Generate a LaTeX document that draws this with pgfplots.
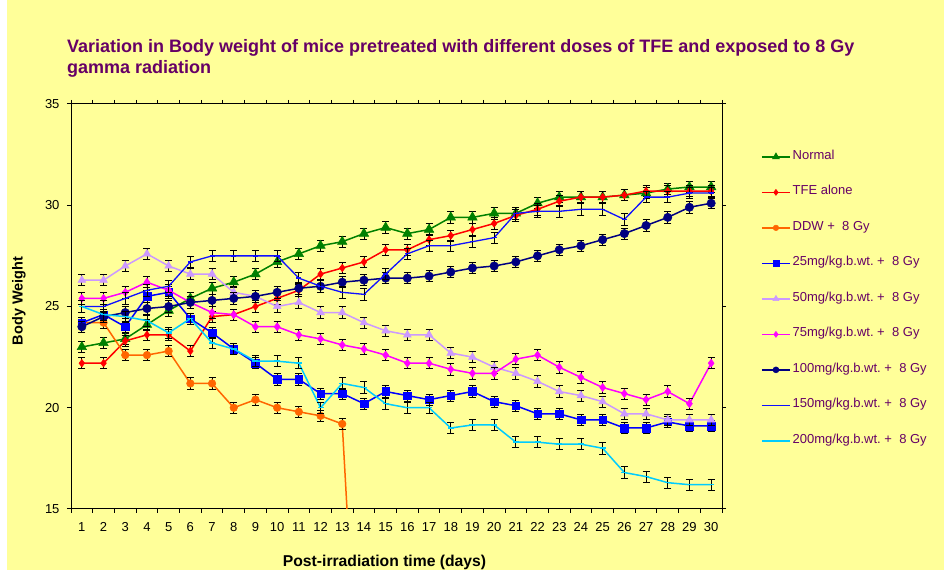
\documentclass[border=0pt]{standalone}
\usepackage{pgfplots}
\pgfplotsset{compat=1.18}
\usepackage{fontspec}
\setmainfont{Liberation Sans}
\frenchspacing
\definecolor{bgyellow}{HTML}{FFFF99}
\definecolor{tpurple}{HTML}{660066}
\definecolor{cNormal}{HTML}{008000}
\definecolor{cTFE}{HTML}{FF0000}
\definecolor{cDDW}{HTML}{FF6600}
\definecolor{cA}{HTML}{0000FF}
\definecolor{cB}{HTML}{CC99FF}
\definecolor{cC}{HTML}{FF00FF}
\definecolor{cD}{HTML}{000080}
\definecolor{cE}{HTML}{1010FF}
\definecolor{cF}{HTML}{00CCFF}
\pgfplotsset{
  eb/.style={error bars/y dir=both, error bars/y fixed=0.28,
    error bars/error bar style={black, line width=0.8bp},
    error bars/error mark options={black, rotate=90, mark size=3.5bp, line width=0.8bp}},
}
\begin{document}
\begin{tikzpicture}
\useasboundingbox (0,0) rectangle (944bp,570bp);
\fill[bgyellow] (0,0) rectangle (944bp,570bp);
\fill[white] (0,0) rectangle (7bp,570bp);
\node[anchor=base west, inner sep=0pt, text=tpurple, font=\fontsize{18bp}{21bp}\selectfont\bfseries] at (67bp,517.7bp) {Variation in Body weight of mice pretreated with different doses of TFE and exposed to 8 Gy};
\node[anchor=base west, inner sep=0pt, text=tpurple, font=\fontsize{18bp}{21bp}\selectfont\bfseries] at (67bp,496.7bp) {gamma radiation};
\begin{axis}[
  at={(71bp,61bp)}, anchor=south west,
  scale only axis, width=651bp, height=405bp,
  xmin=0.5, xmax=30.5, ymin=15, ymax=35,
  xtick={1,...,30}, ytick={15,20,...,35},
  minor xtick={0.5,1.5,...,30.5},
  every major x tick/.append style={draw=none},
  tick align=outside, major tick length=4bp, minor tick length=4bp,
  tick style={black, line width=1bp},
  axis line style={black, line width=1bp},
  /pgf/number format/assume math mode=true,
  ticklabel style={font=\fontsize{13bp}{15bp}\selectfont},
  xticklabel style={yshift=-6bp},
  yticklabel style={xshift=-4bp},
  xlabel={Post-irradiation time (days)},
  ylabel={Body Weight},
  every axis x label/.style={at={(axis description cs:0.4816,-0.1425)}, anchor=base, font=\fontsize{15.7bp}{18bp}\selectfont\bfseries},
  every axis y label/.style={at={(axis description cs:-0.0799,0.5136)}, anchor=center, rotate=90, font=\fontsize{14.5bp}{17bp}\selectfont\bfseries},
  clip marker paths=true,
  legend cell align=left,
  legend image code/.code={\draw[mark repeat=2,mark phase=2,#1] plot coordinates {(0bp,0bp)(14bp,0bp)(28bp,0bp)};},
  legend style={at={(1.0599,0.886)}, anchor=north west, draw=none, fill=none, inner sep=0pt,
    row sep=22.5bp, text=tpurple, font=\fontsize{13bp}{15bp}\selectfont,
    nodes={inner xsep=2bp, inner ysep=0pt, text height=9bp, text depth=4bp}},
  every axis plot/.append style={line width=1.5bp},
]
\addlegendimage{cNormal, line width=1.5bp, mark=triangle*, mark size=4bp, mark options={line width=0.5bp}}
\addlegendentry{Normal}
\addlegendimage{cTFE, line width=1.5bp, mark=diamond*, mark size=3bp, mark options={line width=0.5bp}}
\addlegendentry{TFE alone}
\addlegendimage{cDDW, line width=1.5bp, mark=*, mark size=2.8bp, mark options={line width=0.5bp}}
\addlegendentry{DDW +~ 8 Gy}
\addlegendimage{cA, line width=1.5bp, mark=square*, mark size=2.8bp, mark options={line width=0.5bp}}
\addlegendentry{25mg/kg.b.wt. +~ 8 Gy}
\addlegendimage{cB, line width=1.5bp, mark=triangle*, mark size=3.5bp, mark options={line width=0.5bp}}
\addlegendentry{50mg/kg.b.wt. +~ 8 Gy}
\addlegendimage{cC, line width=1.5bp, mark=diamond*, mark size=3bp, mark options={line width=0.5bp}}
\addlegendentry{75mg/kg.b.wt. +~ 8 Gy}
\addlegendimage{cD, line width=1.5bp, mark=*, mark size=3bp, mark options={line width=0.5bp}}
\addlegendentry{100mg/kg.b.wt. +~ 8 Gy}
\addlegendimage{cE, line width=1.3bp, mark=-, mark size=2.5bp}
\addlegendentry{150mg/kg.b.wt. +~ 8 Gy}
\addlegendimage{cF, line width=1.5bp, mark=-, mark size=3bp}
\addlegendentry{200mg/kg.b.wt. +~ 8 Gy}

\addplot[forget plot, eb, cNormal, mark=triangle*, mark size=5.5bp, mark options={line width=0.5bp}] coordinates {
(1,23.0)(2,23.2)(3,23.4)(4,24.1)(5,24.8)(6,25.4)(7,25.9)(8,26.2)(9,26.6)(10,27.2)
(11,27.6)(12,28.0)(13,28.2)(14,28.6)(15,28.9)(16,28.6)(17,28.8)(18,29.4)(19,29.4)(20,29.6)
(21,29.6)(22,30.1)(23,30.4)(24,30.4)(25,30.4)(26,30.5)(27,30.6)(28,30.8)(29,30.9)(30,30.9)};
\addplot[forget plot, eb, cTFE, mark=diamond*, mark size=3.8bp, mark options={line width=0.5bp}] coordinates {
(1,22.2)(2,22.2)(3,23.3)(4,23.6)(5,23.6)(6,22.8)(7,24.5)(8,24.6)(9,25.0)(10,25.4)
(11,25.8)(12,26.6)(13,26.9)(14,27.2)(15,27.8)(16,27.8)(17,28.3)(18,28.5)(19,28.8)(20,29.1)
(21,29.5)(22,29.8)(23,30.2)(24,30.4)(25,30.4)(26,30.5)(27,30.7)(28,30.7)(29,30.7)(30,30.7)};
\addplot[forget plot, eb, cDDW, mark=*, mark size=3.8bp, mark options={line width=0.5bp}] coordinates {
(1,24.2)(2,24.2)(3,22.6)(4,22.6)(5,22.8)(6,21.2)(7,21.2)(8,20.0)(9,20.4)(10,20.0)
(11,19.8)(12,19.6)(13,19.2)(14,0)};
\addplot[forget plot, eb, cA, mark=square*, mark size=3.8bp, mark options={line width=0.5bp}] coordinates {
(1,24.2)(2,24.6)(3,24.0)(4,25.5)(5,25.7)(6,24.4)(7,23.7)(8,22.9)(9,22.2)(10,21.4)
(11,21.4)(12,20.7)(13,20.7)(14,20.2)(15,20.8)(16,20.6)(17,20.4)(18,20.6)(19,20.8)(20,20.3)
(21,20.1)(22,19.7)(23,19.7)(24,19.4)(25,19.4)(26,19.0)(27,19.0)(28,19.3)(29,19.1)(30,19.1)};
\addplot[forget plot, eb, cB, mark=triangle*, mark size=4.5bp, mark options={line width=0.5bp}] coordinates {
(1,26.3)(2,26.3)(3,27.0)(4,27.6)(5,27.0)(6,26.6)(7,26.6)(8,25.7)(9,25.5)(10,25.0)
(11,25.2)(12,24.7)(13,24.7)(14,24.2)(15,23.8)(16,23.6)(17,23.6)(18,22.7)(19,22.5)(20,22.0)
(21,21.7)(22,21.3)(23,20.8)(24,20.6)(25,20.3)(26,19.7)(27,19.7)(28,19.4)(29,19.4)(30,19.4)};
\addplot[forget plot, eb, cC, mark=diamond*, mark size=4bp, mark options={line width=0.5bp}] coordinates {
(1,25.4)(2,25.4)(3,25.7)(4,26.2)(5,25.8)(6,25.2)(7,24.7)(8,24.6)(9,24.0)(10,24.0)
(11,23.6)(12,23.4)(13,23.1)(14,22.9)(15,22.6)(16,22.2)(17,22.2)(18,21.9)(19,21.7)(20,21.7)
(21,22.4)(22,22.6)(23,22.0)(24,21.5)(25,21.0)(26,20.7)(27,20.4)(28,20.8)(29,20.2)(30,22.2)};
\addplot[forget plot, eb, cD, mark=*, mark size=4.2bp, mark options={line width=0.5bp}] coordinates {
(1,24.0)(2,24.5)(3,24.7)(4,24.9)(5,25.0)(6,25.2)(7,25.3)(8,25.4)(9,25.5)(10,25.7)
(11,25.9)(12,26.0)(13,26.2)(14,26.3)(15,26.4)(16,26.4)(17,26.5)(18,26.7)(19,26.9)(20,27.0)
(21,27.2)(22,27.5)(23,27.8)(24,28.0)(25,28.3)(26,28.6)(27,29.0)(28,29.4)(29,29.9)(30,30.1)};
\addplot[forget plot, eb, cE, line width=1.3bp, mark=-, mark size=2.5bp] coordinates {
(1,25.0)(2,25.0)(3,25.4)(4,25.8)(5,26.0)(6,27.2)(7,27.5)(8,27.5)(9,27.5)(10,27.5)
(11,26.4)(12,26.0)(13,25.7)(14,25.6)(15,26.6)(16,27.6)(17,28.0)(18,28.0)(19,28.2)(20,28.4)
(21,29.6)(22,29.7)(23,29.7)(24,29.8)(25,29.8)(26,29.3)(27,30.4)(28,30.4)(29,30.6)(30,30.6)};
\addplot[forget plot, eb, cF, mark=-, mark size=3bp] coordinates {
(1,25.0)(2,24.6)(3,24.5)(4,24.3)(5,23.7)(6,24.4)(7,23.2)(8,22.9)(9,22.3)(10,22.3)
(11,22.2)(12,20.0)(13,21.2)(14,21.0)(15,20.2)(16,20.0)(17,20.0)(18,19.0)(19,19.15)(20,19.15)
(21,18.3)(22,18.3)(23,18.2)(24,18.2)(25,18.0)(26,16.8)(27,16.6)(28,16.3)(29,16.2)(30,16.2)};
\end{axis}
\end{tikzpicture}
\end{document}
